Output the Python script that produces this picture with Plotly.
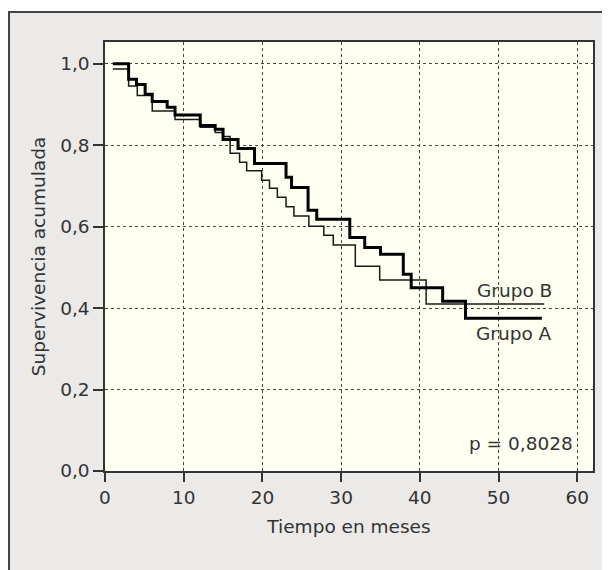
import plotly.graph_objects as go

# Group A (thick line): event times (months) and cumulative survival
time_a = [1.0, 3.0, 4.0, 5.1, 6.0, 7.9, 8.9, 12.1, 14.0, 15.0, 16.9, 19.0, 23.0, 23.7,
          25.8, 26.9, 31.1, 33.0, 35.0, 37.9, 38.9, 42.9, 45.8, 55.5]
surv_a = [1.000, 0.962, 0.949, 0.925, 0.907, 0.893, 0.874, 0.848, 0.839, 0.814, 0.792, 0.755,
          0.721, 0.696, 0.640, 0.618, 0.573, 0.549, 0.532, 0.483, 0.450, 0.417, 0.375, 0.375]

# Group B (thin line)
time_b = [1.0, 3.0, 4.1, 6.0, 8.9, 12.1, 14.0, 15.0, 15.9, 17.1, 18.0, 19.9, 20.9, 21.9,
          23.0, 24.0, 25.9, 27.8, 29.0, 31.8, 34.9, 40.8, 55.8]
surv_b = [0.987, 0.945, 0.922, 0.884, 0.863, 0.844, 0.831, 0.821, 0.780, 0.758, 0.737, 0.714,
          0.694, 0.672, 0.649, 0.626, 0.601, 0.579, 0.555, 0.503, 0.469, 0.410, 0.410]

x_ticks = [0, 10, 20, 30, 40, 50, 60]
y_ticks = [0.0, 0.2, 0.4, 0.6, 0.8, 1.0]
y_ticktext = ["0,0", "0,2", "0,4", "0,6", "0,8", "1,0"]

FONT = "DejaVu Sans"
FS = 18.5
TXT = "#333333"

fig = go.Figure()
fig.add_trace(go.Scatter(x=time_b, y=surv_b, mode="lines", line=dict(shape="hv", color="#1a1a1a", width=1.5),
                         name="Grupo B", showlegend=False, hoverinfo="skip"))
fig.add_trace(go.Scatter(x=time_a, y=surv_a, mode="lines", line=dict(shape="hv", color="#000000", width=3),
                         name="Grupo A", showlegend=False, hoverinfo="skip"))

fig.add_annotation(x=52.0, y=0.444, text="Grupo B", showarrow=False, xanchor="center", yanchor="middle",
                   font=dict(family=FONT, size=FS, color=TXT))
fig.add_annotation(x=52.0, y=0.338, text="Grupo A", showarrow=False, xanchor="center", yanchor="middle",
                   font=dict(family=FONT, size=FS, color=TXT))
fig.add_annotation(x=59.7, y=0.068, text="p = 0,8028", showarrow=False, xanchor="right", yanchor="middle",
                   font=dict(family=FONT, size=FS, color=TXT))

# outer grey frame and cream plot background
fig.add_shape(type="rect", xref="paper", yref="paper", x0=-0.1967, x1=1.1, y0=-0.3, y1=1.07,
              fillcolor="#EBEAE8", line=dict(color="#444444", width=2), layer="below")
fig.add_shape(type="rect", xref="paper", yref="paper", x0=0, x1=1, y0=0, y1=1,
              fillcolor="#FFFFF2", line=dict(width=0), layer="below")

# the page body adds an 8px offset, so the plot area is placed 8px up/left
fig.update_layout(
    width=610, height=570,
    margin=dict(l=97, r=25, t=34, b=107),
    paper_bgcolor="white", plot_bgcolor="rgba(0,0,0,0)",
    font=dict(family=FONT, size=FS, color=TXT),
)
fig.update_xaxes(range=[0, 62], tickvals=x_ticks, showline=True, mirror=True, linecolor="#333333", linewidth=1.5,
                 ticks="outside", ticklen=9, tickcolor="#333333", tickwidth=1.5,
                 showgrid=True, gridcolor="#444444", griddash="dot", gridwidth=1, zeroline=False,
                 title=dict(text="Tiempo en meses", standoff=13, font=dict(family=FONT, size=FS, color=TXT)),
                 tickfont=dict(family=FONT, size=FS, color=TXT))
fig.update_yaxes(range=[0, 1.0533], tickvals=y_ticks, ticktext=y_ticktext, showline=True, mirror=True,
                 linecolor="#333333", linewidth=1.5,
                 ticks="outside", ticklen=10, tickcolor="#333333", tickwidth=1.5,
                 showgrid=True, gridcolor="#444444", griddash="dot", gridwidth=1, zeroline=False,
                 title=dict(text="Supervivencia acumulada", standoff=10, font=dict(family=FONT, size=FS, color=TXT)),
                 tickfont=dict(family=FONT, size=FS, color=TXT))

fig.write_html("out.html")
